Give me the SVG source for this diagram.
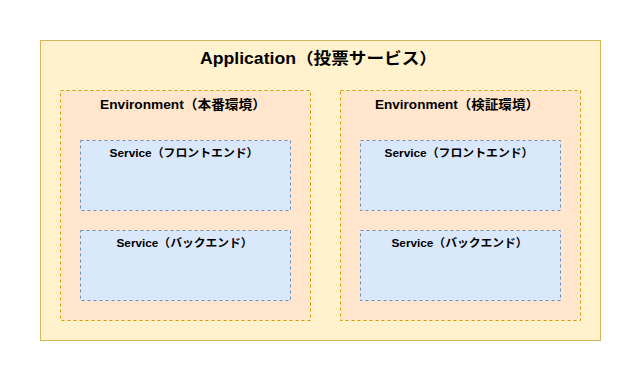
<svg xmlns="http://www.w3.org/2000/svg" width="640" height="380" viewBox="0 0 640 380">
<style>
text{font-family:"Liberation Sans","Noto Sans CJK JP",sans-serif;font-weight:bold;fill:#000}
.app{fill:#fff2cc;stroke:#d6b656;stroke-width:1}
.env{fill:#ffe6cc;stroke:#d79b00;stroke-width:1;stroke-dasharray:3 3}
.svc{fill:#dae8fc;stroke:#6c8ebf;stroke-width:1;stroke-dasharray:3 3}
.t1{font-size:16px}
.t2{font-size:13px}
.t3{font-size:11.5px}
</style>
<rect width="640" height="380" fill="#ffffff"/>
<g id="app">
<rect class="app" x="40.5" y="40.5" width="560" height="300"/>
<text class="t1" x="200" y="64" textLength="237" lengthAdjust="spacingAndGlyphs">Application（投票サービス）</text>
</g>
<g id="env-prod">
<rect class="env" x="60.5" y="90.5" width="250" height="230"/>
<text class="t2" x="100" y="109" textLength="166" lengthAdjust="spacingAndGlyphs">Environment（本番環境）</text>
</g>
<g id="env-stg">
<rect class="env" x="340.5" y="90.5" width="240" height="230"/>
<text class="t2" x="375" y="109" textLength="164" lengthAdjust="spacingAndGlyphs">Environment（検証環境）</text>
</g>
<g id="svc-prod-front">
<rect class="svc" x="80.5" y="140.5" width="210" height="70"/>
<text class="t3" x="109.5" y="157" textLength="149" lengthAdjust="spacingAndGlyphs">Service（フロントエンド）</text>
</g>
<g id="svc-prod-back">
<rect class="svc" x="80.5" y="230.5" width="210" height="70"/>
<text class="t3" x="116.5" y="247" textLength="136" lengthAdjust="spacingAndGlyphs">Service（バックエンド）</text>
</g>
<g id="svc-stg-front">
<rect class="svc" x="360.5" y="140.5" width="200" height="70"/>
<text class="t3" x="384.5" y="157" textLength="149" lengthAdjust="spacingAndGlyphs">Service（フロントエンド）</text>
</g>
<g id="svc-stg-back">
<rect class="svc" x="360.5" y="230.5" width="200" height="70"/>
<text class="t3" x="391.5" y="247" textLength="136" lengthAdjust="spacingAndGlyphs">Service（バックエンド）</text>
</g>
<g id="connectors"></g>
</svg>
